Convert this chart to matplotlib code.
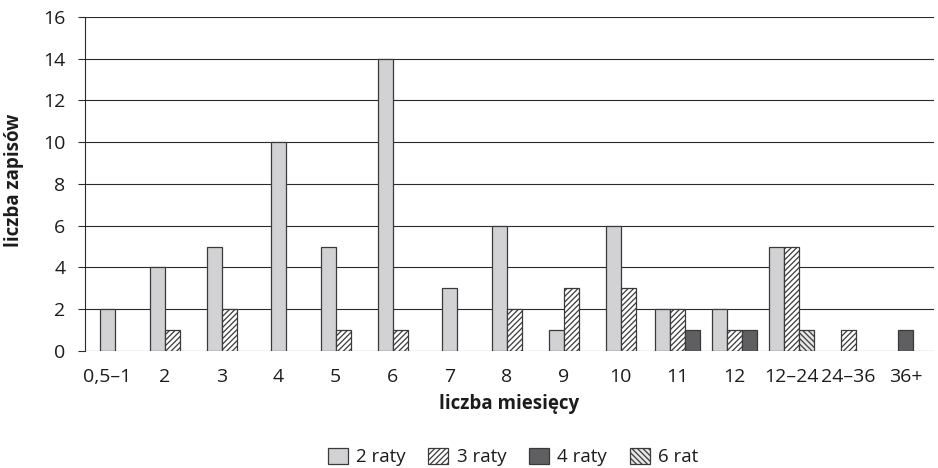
import numpy as np
import matplotlib
matplotlib.use("Agg")
import matplotlib.pyplot as plt

plt.rcParams['font.family'] = ['Open Sans', 'DejaVu Sans']
plt.rcParams['hatch.linewidth'] = 0.9

# liczba zapisów wg liczby miesięcy i liczby rat
kategorie = ['0,5–1', '2', '3', '4', '5', '6', '7', '8', '9', '10',
             '11', '12', '12–24', '24–36', '36+']
raty2 = [2, 4, 5, 10, 5, 14, 3, 6, 1, 6, 2, 2, 5, 0, 0]
raty3 = [0, 1, 2, 0, 1, 1, 0, 2, 3, 3, 2, 1, 5, 1, 0]
raty4 = [0, 0, 0, 0, 0, 0, 0, 0, 0, 0, 1, 1, 0, 0, 1]
rat6 = [0, 0, 0, 0, 0, 0, 0, 0, 0, 0, 0, 0, 1, 0, 0]

serie = [
    ('2 raty', raty2, dict(facecolor='#d2d2d4', hatch=None)),
    ('3 raty', raty3, dict(facecolor='white', hatch='//////')),
    ('4 raty', raty4, dict(facecolor='#5f5f61', hatch=None)),
    ('6 rat', rat6, dict(facecolor='#e6e6e6', hatch='\\\\\\\\\\\\')),
]

fs = 14
ink = '#1c1c1c'

fig = plt.figure(figsize=(9.38, 4.68), dpi=100)
ax = fig.add_axes([0.0904, 0.25, 0.9053, 0.7137])

w = 0.263
for i in range(len(kategorie)):
    # w każdej grupie rysowane są tylko niezerowe słupki, wyśrodkowane
    aktywne = [s for s in serie if s[1][i] > 0]
    n = len(aktywne)
    for j, (nazwa, wart, styl) in enumerate(aktywne):
        x = i + (j - (n - 1) / 2) * w
        ax.bar(x, wart[i], width=w, edgecolor='#3a3a3a', linewidth=0.9,
               zorder=3, **styl)

ax.set_xlim(-0.4, len(kategorie) - 0.5)
ax.set_ylim(0, 16)
ax.set_yticks(range(0, 17, 2))
ax.set_xticks(range(len(kategorie)))
ax.set_xticklabels(kategorie)
ax.grid(axis='y', color='#2a2a2a', linewidth=0.8, zorder=0)
ax.set_axisbelow(True)
for s in ['top', 'right', 'bottom']:
    ax.spines[s].set_visible(False)
ax.spines['left'].set_color('#2a2a2a')
ax.spines['left'].set_linewidth(0.8)
ax.tick_params(axis='y', length=5, width=0.8, color='#2a2a2a', pad=9,
               labelsize=fs, labelcolor=ink)
ax.tick_params(axis='x', length=0, pad=12, labelsize=fs, labelcolor=ink)

ax.set_xlabel('liczba miesięcy', fontsize=13.5, fontweight='bold',
              color=ink, labelpad=6)
ax.set_ylabel('liczba zapisów', fontsize=13.5, fontweight='bold', color=ink)
ax.yaxis.set_label_coords(-0.0716, 0.512)

uchwyty = [plt.Rectangle((0, 0), 1, 1, edgecolor='#3a3a3a', linewidth=0.9, **s[2])
           for s in serie]
fig.legend(uchwyty, [s[0] for s in serie], loc='center', ncol=4,
           bbox_to_anchor=(513 / 938, 1 - 457 / 468), frameon=False, fontsize=13.5,
           handlelength=1.07, handleheight=0.96, handletextpad=0.45,
           columnspacing=1.2, labelcolor=ink, borderpad=0)

fig.savefig('out.png', dpi=100)
